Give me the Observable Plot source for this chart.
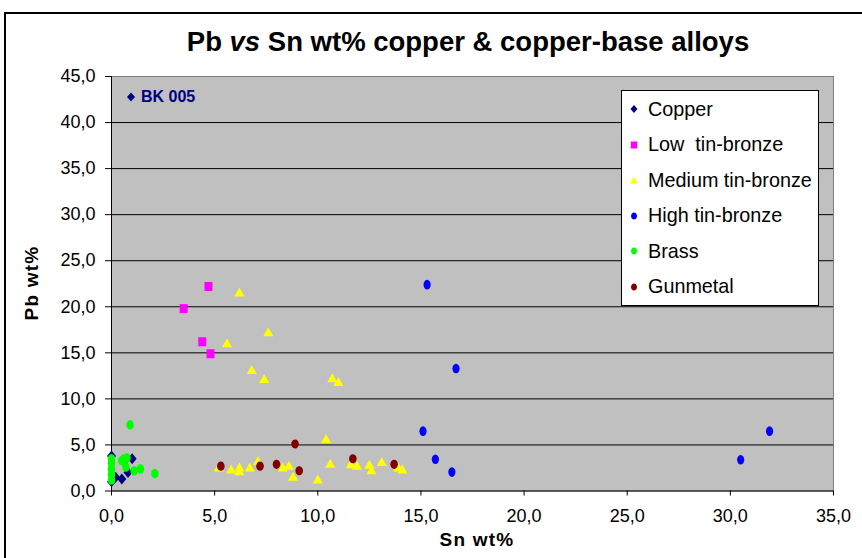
<!DOCTYPE html>
<html><head><meta charset="utf-8">
<script src="https://cdn.jsdelivr.net/npm/d3@7"></script>
<script src="https://cdn.jsdelivr.net/npm/@observablehq/plot@0.6"></script>
<style>
body{margin:0;background:#fff;}
#wrap{position:relative;width:862px;height:558px;overflow:hidden;font-family:Arial,"Liberation Sans",sans-serif;}
#frame{position:absolute;left:4px;top:12px;width:870px;height:570px;border:2px solid #000;box-sizing:border-box;}
#chart{position:absolute;left:0;top:0;}
#title{position:absolute;left:0;width:936px;top:28px;text-align:center;font-weight:bold;font-size:27.5px;line-height:27px;white-space:nowrap;}
#ylab{position:absolute;left:32px;top:283px;transform:translate(-50%,-50%) rotate(-90deg);font-weight:bold;font-size:19px;letter-spacing:1.2px;white-space:nowrap;}
#xlab{position:absolute;left:477px;top:540px;transform:translate(-50%,-50%);font-weight:bold;font-size:19px;letter-spacing:1.2px;white-space:nowrap;}
#note{position:absolute;left:125px;top:88px;color:#000080;font-weight:bold;font-size:16px;white-space:nowrap;display:flex;align-items:center;gap:4px;}
#legend{position:absolute;left:621px;top:90px;width:198px;height:216px;background:#fff;border:1px solid #000;box-sizing:border-box;}
.item{position:absolute;left:0;display:flex;align-items:center;font-size:19.8px;white-space:pre;height:24px;}
.item svg{margin-left:6px;margin-right:8px;}
</style></head>
<body>
<div id="wrap">
  <div id="chart"></div>
  <div id="frame"></div>
  <div id="title">Pb <i>vs</i> Sn wt% copper &amp; copper-base alloys</div>
  <div id="ylab">Pb wt%</div>
  <div id="xlab">Sn wt%</div>
  <div id="note"></div>
  <div id="legend"></div>
</div>
<script>
// ---- data ----
const seriesNames = ["Copper", "Low  tin-bronze", "Medium tin-bronze", "High tin-bronze", "Brass", "Gunmetal"];
const seriesColors = ["#000080", "#FF00FF", "#FFFF00", "#0000FF", "#00FF00", "#800000"];

const copperSn = [0, 0, 0.2, 0.5, 0.8, 1.0, 0.6];
const copperPb = [3.8, 1.0, 1.5, 1.3, 2.0, 3.5, 3.2];

const lowTinSn = [3.5, 4.7, 4.4, 4.8];
const lowTinPb = [19.8, 22.2, 16.2, 14.9];

const medTinSn = [6.2, 7.6, 5.6, 6.8, 7.4, 10.7, 11.0, 10.4, 5.2, 5.8, 6.2, 6.2, 6.7, 7.1, 8.3, 8.6, 8.8, 10.0, 10.6, 11.6, 11.9, 12.5, 12.6, 13.1, 13.9, 14.1];
const medTinPb = [21.6, 17.3, 16.1, 13.2, 12.2, 12.3, 11.9, 5.7, 2.6, 2.4, 2.6, 2.2, 2.6, 3.3, 2.6, 2.8, 1.6, 1.3, 3.0, 2.95, 2.8, 2.9, 2.3, 3.2, 2.6, 2.4];

const highTinSn = [15.3, 16.7, 15.1, 15.7, 16.5, 31.9, 30.5];
const highTinPb = [22.4, 13.3, 6.5, 3.45, 2.05, 6.5, 3.4];

const brassSn = [0, 0, 0, 0, 0, 0.5, 0.6, 0.75, 0.7, 1.1, 1.4, 2.1, 0.9];
const brassPb = [1.2, 1.8, 2.4, 3.0, 3.5, 3.3, 3.5, 3.6, 2.6, 2.2, 2.4, 1.9, 7.2];

const gunSn = [5.3, 7.2, 8.0, 8.9, 9.1, 11.7, 13.7];
const gunPb = [2.7, 2.7, 2.9, 5.1, 2.2, 3.5, 2.9];

const xTicks = [0, 5, 10, 15, 20, 25, 30, 35];
const yTicks = [0, 5, 10, 15, 20, 25, 30, 35, 40, 45];
const noteText = "BK 005";

// ---- symbols ----
const K = 0.5523;
const ellipse = (rx, ry) => ({draw(c){c.moveTo(rx,0);c.bezierCurveTo(rx,K*ry,K*rx,ry,0,ry);c.bezierCurveTo(-K*rx,ry,-rx,K*ry,-rx,0);c.bezierCurveTo(-rx,-K*ry,-K*rx,-ry,0,-ry);c.bezierCurveTo(K*rx,-ry,rx,-K*ry,rx,0);c.closePath();}});
const diamond = (w, h) => ({draw(c){c.moveTo(0,-h);c.lineTo(w,0);c.lineTo(0,h);c.lineTo(-w,0);c.closePath();}});
const square = (w, h) => ({draw(c){c.rect(-w,-h,2*w,2*h);}});
const triangle = (w, h) => ({draw(c){c.moveTo(0,-h);c.lineTo(w,h);c.lineTo(-w,h);c.closePath();}});

const bigSymbols = [diamond(4.5,5.5), square(4,4.5), triangle(5,4.5), ellipse(3.6,4.8), ellipse(3.8,4.8), ellipse(3.8,4.6)];
const smallSymbols = [diamond(3.5,4), square(3.2,3.5), triangle(3.8,3.5), ellipse(3,3.6), ellipse(3,3.6), ellipse(3,3.6)];

const toRows = (xs, ys) => xs.map((x, i) => ({x, y: ys[i]}));
const series = [
  toRows(copperSn, copperPb),
  toRows(lowTinSn, lowTinPb),
  toRows(medTinSn, medTinPb),
  toRows(highTinSn, highTinPb),
  toRows(brassSn, brassPb),
  toRows(gunSn, gunPb)
];

const fmt = d => d3.format(".1f")(d).replace(".", ",");

const plot = Plot.plot({
  width: 862, height: 558,
  marginTop: 76, marginRight: 29, marginBottom: 67.5, marginLeft: 111,
  style: {fontFamily: "Arial, 'Liberation Sans', sans-serif", fontSize: "18px", background: "transparent", color: "#000"},
  x: {domain: [0, 35]},
  y: {domain: [0, 45]},
  marks: [
    Plot.frame({fill: "#C0C0C0", stroke: "#808080"}),
    Plot.gridY(yTicks.slice(1, -1), {stroke: "#000", strokeOpacity: 1, strokeWidth: 1}),
    Plot.ruleY([0], {stroke: "#000"}),
    Plot.ruleX([0], {stroke: "#000"}),
    Plot.axisY({ticks: yTicks, tickFormat: fmt, tickSize: 6, tickPadding: 10, label: null, fontSize: 18, stroke: "#000"}),
    Plot.axisX({ticks: xTicks, tickFormat: fmt, tickSize: 5, tickPadding: 13, label: null, fontSize: 18, stroke: "#000"}),
    ...series.map((rows, i) => Plot.dot(rows, {x: "x", y: "y", symbol: bigSymbols[i], fill: seriesColors[i], stroke: "none", r: 4}))
  ]
});
document.getElementById("chart").appendChild(plot);

// ---- legend ----
const iconPath = sym => { const p = d3.path(); sym.draw(p); return p.toString(); };
const legend = document.getElementById("legend");
seriesNames.forEach((name, i) => {
  const item = document.createElement("div");
  item.className = "item";
  item.style.top = (19 - 12 + i * 35.5 - 1) + "px";
  item.innerHTML = `<svg width="12" height="12" viewBox="-6 -6 12 12"><path d="${iconPath(smallSymbols[i])}" fill="${seriesColors[i]}"/></svg><span>${name}</span>`;
  legend.appendChild(item);
});
document.getElementById("note").innerHTML = `<svg width="12" height="12" viewBox="-6 -6 12 12"><path d="${iconPath(diamond(4,4.5))}" fill="#000080"/></svg><span>${noteText}</span>`;
</script>
</body></html>
